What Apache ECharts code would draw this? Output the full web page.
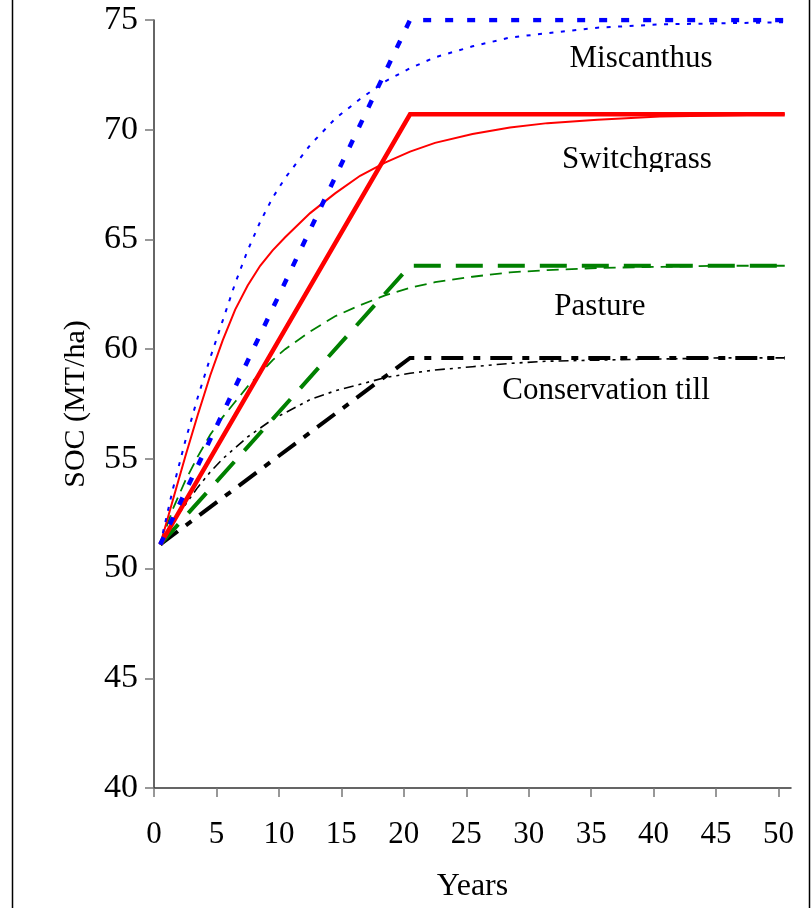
<!DOCTYPE html>
<html>
<head>
<meta charset="utf-8">
<script src="https://cdn.jsdelivr.net/npm/echarts@6/dist/echarts.min.js"></script>
<style>
html,body{margin:0;padding:0;background:#fff;}
#chart{width:812px;height:908px;}
</style>
</head>
<body>
<div id="chart"></div>
<script>
// ---- data ----
const curveYears = [0,1,2,3,4,5,6,7,8,9,10,12,14,16,18,20,22,25,28,31,35,40,45,50];
const miscanthusCurve   = [51.1,53.6,55.8,57.8,59.6,61.3,63.0,64.5,65.8,66.9,67.8,69.3,70.5,71.4,72.2,72.8,73.3,73.8,74.2,74.4,74.65,74.8,74.85,74.9];
const switchgrassCurve  = [51.1,53.1,55.1,57.0,58.8,60.4,61.8,62.9,63.8,64.5,65.1,66.2,67.1,67.9,68.5,69.0,69.4,69.8,70.1,70.3,70.45,70.6,70.65,70.7];
const pastureCurve      = [51.1,52.7,54.0,55.1,56.1,56.9,57.6,58.3,58.9,59.5,60.0,60.8,61.5,62.0,62.45,62.8,63.05,63.3,63.5,63.6,63.7,63.75,63.8,63.8];
const conservationCurve = [51.1,52.1,52.9,53.7,54.4,55.0,55.5,56.0,56.4,56.8,57.1,57.7,58.1,58.4,58.7,58.9,59.05,59.2,59.35,59.45,59.5,59.55,59.6,59.6];

const linearYears = [0,20,50];
const miscanthusLinear   = [51.1,75.0,75.0];
const switchgrassLinear  = [51.1,70.7,70.7];
const pastureLinear      = [51.1,63.8,63.8];
const conservationLinear = [51.1,59.6,59.6];

const xTicks = [0,5,10,15,20,25,30,35,40,45,50];
const labels = ['Miscanthus','Switchgrass','Pasture','Conservation till'];

// Points sit at the centre of each yearly category (half a year right of the tick).
const CAT_OFFSET = 0.5;
function pts(xs, ys){ return xs.map((x,i)=>[x + CAT_OFFSET, ys[i]]); }

const FONT = '"Liberation Serif","Times New Roman",serif';

function line(name, xs, ys, color, width, type){
  return {
    name, type:'line', data: pts(xs, ys), symbol:'none', smooth:false,
    lineStyle:{color, width, type, cap:'butt', join:'miter'},
    silent:true, animation:false
  };
}

const chart = echarts.init(document.getElementById('chart'), null, {renderer:'canvas'});
chart.setOption({
  backgroundColor:'#fff',
  animation:false,
  grid:{left:154, right:21, top:20, bottom:118, containLabel:false},
  xAxis:{
    type:'value', min:0, max:51,
    name:'Years', nameLocation:'middle', nameGap:83,
    nameTextStyle:{fontFamily:FONT, fontSize:32, color:'#000'},
    axisLine:{show:true, lineStyle:{color:'#333', width:1.5}},
    axisTick:{show:true, inside:false, length:9, customValues:xTicks, lineStyle:{color:'#777', width:1.5}},
    axisLabel:{customValues:xTicks, margin:31, fontFamily:FONT, fontSize:31, color:'#000'},
    splitLine:{show:false}
  },
  yAxis:{
    type:'value', min:40, max:75, interval:5,
    name:'SOC (MT/ha)', nameLocation:'middle', nameGap:63, nameRotate:90,
    nameTextStyle:{fontFamily:FONT, fontSize:30, color:'#000'},
    axisLine:{show:true, lineStyle:{color:'#333', width:1.5}},
    axisTick:{show:true, inside:false, length:9, lineStyle:{color:'#777', width:1.5}},
    axisLabel:{margin:16, fontFamily:FONT, fontSize:34, color:'#000'},
    splitLine:{show:false}
  },
  series:[
    line('Conservation till curve', curveYears, conservationCurve, '#000000', 1.6, [10,5,3,5,3,5]),
    line('Pasture curve', curveYears, pastureCurve, '#008000', 1.8, [12,7]),
    line('Switchgrass curve', curveYears, switchgrassCurve, '#FF0000', 2, 'solid'),
    line('Miscanthus curve', curveYears, miscanthusCurve, '#0000FF', 2, [4,7.5]),
    line('Conservation till linear', linearYears, conservationLinear, '#000000', 4, [22,10,7,10]),
    line('Pasture linear', linearYears, pastureLinear, '#008000', 4, [27,15]),
    line('Switchgrass linear', linearYears, switchgrassLinear, '#FF0000', 4.5, 'solid'),
    line('Miscanthus linear', linearYears, miscanthusLinear, '#0000FF', 4.5, [8,14])
  ],
  graphic:[
    {type:'line', shape:{x1:12.5,y1:0,x2:12.5,y2:908}, style:{stroke:'#000', lineWidth:1.5}, silent:true},
    {type:'line', shape:{x1:809.5,y1:0,x2:809.5,y2:908}, style:{stroke:'#000', lineWidth:1.5}, silent:true},
    {type:'text', x:641, y:59, style:{text:labels[0], font:'31px "Liberation Serif","Times New Roman",serif', fill:'#000', textAlign:'center', textVerticalAlign:'middle'}, silent:true},
    {type:'text', x:637, y:160, style:{text:labels[1], font:'31px "Liberation Serif","Times New Roman",serif', fill:'#000', textAlign:'center', textVerticalAlign:'middle'}, silent:true},
    {type:'rect', shape:{x:550, y:172, width:180, height:14}, style:{fill:'#fff'}, silent:true, z:100},
    {type:'text', x:600, y:307, style:{text:labels[2], font:'31px "Liberation Serif","Times New Roman",serif', fill:'#000', textAlign:'center', textVerticalAlign:'middle'}, silent:true},
    {type:'text', x:606, y:391, style:{text:labels[3], font:'31px "Liberation Serif","Times New Roman",serif', fill:'#000', textAlign:'center', textVerticalAlign:'middle'}, silent:true}
  ]
});
</script>
</body>
</html>
